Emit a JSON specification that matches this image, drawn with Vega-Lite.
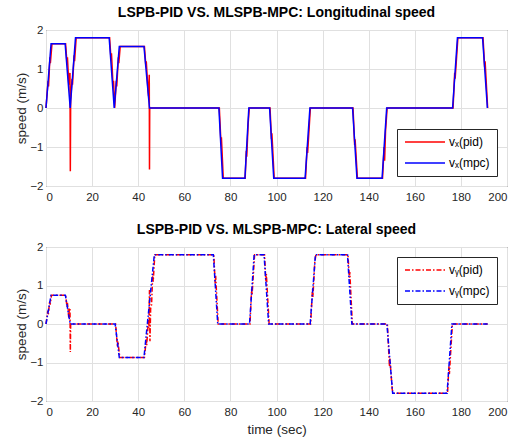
{
  "$schema": "https://vega.github.io/schema/vega-lite/v6.json",
  "padding": {"left": 14, "top": 5, "right": 5, "bottom": 2},
  "background": "white",
  "spacing": 19,
  "resolve": {"scale": {"color": "independent"}, "legend": {"color": "independent"}},
  "config": {
    "font": "Liberation Sans",
    "view": {"stroke": "#262626", "strokeWidth": 1},
    "axis": {"grid": true, "gridColor": "#e0e0e0", "domain": false, "ticks": false, "labelFont": "Liberation Sans", "labelFontSize": 11.5, "labelColor": "#262626", "titleFont": "Liberation Sans", "titleFontSize": 13.5, "titleFontWeight": "normal", "titleColor": "#262626"},
    "title": {"font": "Liberation Sans", "fontSize": 14, "fontWeight": "bold", "color": "#000000", "offset": 4},
    "legend": {"fillColor": "white", "strokeColor": "#262626", "padding": 7, "labelFont": "Liberation Sans", "labelFontSize": 12, "labelColor": "#000000", "symbolType": "M-1,0H7", "symbolStrokeWidth": 1.5, "symbolSize": 100, "rowPadding": 9, "labelOffset": 33, "cornerRadius": 0}
  },
  "vconcat": [
    {
      "width": 461,
      "height": 156,
      "title": "LSPB-PID VS. MLSPB-MPC: Longitudinal speed",
      "data": {"values": [
        {"s": "pid", "t": 0, "v": 0}, {"s": "pid", "t": 0.9, "v": 0.7}, {"s": "pid", "t": 1.1, "v": 0.55}, {"s": "pid", "t": 1.7, "v": 1.3}, {"s": "pid", "t": 1.9, "v": 1.15}, {"s": "pid", "t": 2.6, "v": 1.65},
        {"s": "pid", "t": 8.5, "v": 1.65}, {"s": "pid", "t": 9.1, "v": 1.15}, {"s": "pid", "t": 9.3, "v": 1.3}, {"s": "pid", "t": 9.9, "v": 0.6}, {"s": "pid", "t": 10.1, "v": 0.85}, {"s": "pid", "t": 10.4, "v": 0.9}, {"s": "pid", "t": 10.55, "v": -1.62}, {"s": "pid", "t": 10.7, "v": 0.2},
        {"s": "pid", "t": 11.3, "v": 0.75}, {"s": "pid", "t": 11.5, "v": 0.6}, {"s": "pid", "t": 12.2, "v": 1.35}, {"s": "pid", "t": 12.4, "v": 1.2}, {"s": "pid", "t": 13.1, "v": 1.8},
        {"s": "pid", "t": 27.6, "v": 1.8}, {"s": "pid", "t": 28.2, "v": 1.25}, {"s": "pid", "t": 28.4, "v": 1.4}, {"s": "pid", "t": 29.1, "v": 0.55}, {"s": "pid", "t": 29.3, "v": 0.7}, {"s": "pid", "t": 29.8, "v": 0},
        {"s": "pid", "t": 30.5, "v": 0.7}, {"s": "pid", "t": 30.7, "v": 0.55}, {"s": "pid", "t": 31.4, "v": 1.3}, {"s": "pid", "t": 31.6, "v": 1.15}, {"s": "pid", "t": 32.2, "v": 1.58},
        {"s": "pid", "t": 42.7, "v": 1.58}, {"s": "pid", "t": 43.3, "v": 1.1}, {"s": "pid", "t": 43.5, "v": 1.2}, {"s": "pid", "t": 44.2, "v": 0.5}, {"s": "pid", "t": 44.5, "v": 0.3}, {"s": "pid", "t": 44.8, "v": 0.85}, {"s": "pid", "t": 44.9, "v": -1.58}, {"s": "pid", "t": 45.0, "v": 0},
        {"s": "pid", "t": 75.2, "v": 0}, {"s": "pid", "t": 75.9, "v": -0.9}, {"s": "pid", "t": 76.1, "v": -0.75}, {"s": "pid", "t": 76.9, "v": -1.8},
        {"s": "pid", "t": 86.4, "v": -1.8}, {"s": "pid", "t": 86.9, "v": -1.1}, {"s": "pid", "t": 87.1, "v": -1.25}, {"s": "pid", "t": 87.7, "v": -0.4}, {"s": "pid", "t": 88.2, "v": 0},
        {"s": "pid", "t": 97.2, "v": 0}, {"s": "pid", "t": 97.8, "v": -0.8}, {"s": "pid", "t": 98.0, "v": -0.65}, {"s": "pid", "t": 99.0, "v": -1.8},
        {"s": "pid", "t": 112.6, "v": -1.8}, {"s": "pid", "t": 113.3, "v": -1.0}, {"s": "pid", "t": 113.5, "v": -1.15}, {"s": "pid", "t": 114.7, "v": 0},
        {"s": "pid", "t": 133.2, "v": 0}, {"s": "pid", "t": 133.9, "v": -0.95}, {"s": "pid", "t": 134.1, "v": -0.8}, {"s": "pid", "t": 135.1, "v": -1.8},
        {"s": "pid", "t": 146.0, "v": -1.8}, {"s": "pid", "t": 146.7, "v": -1.0}, {"s": "pid", "t": 146.9, "v": -1.35}, {"s": "pid", "t": 147.3, "v": -0.6}, {"s": "pid", "t": 148.0, "v": 0},
        {"s": "pid", "t": 176.6, "v": 0}, {"s": "pid", "t": 177.3, "v": 0.9}, {"s": "pid", "t": 177.5, "v": 0.75}, {"s": "pid", "t": 178.7, "v": 1.8},
        {"s": "pid", "t": 189.6, "v": 1.8}, {"s": "pid", "t": 190.3, "v": 1.05}, {"s": "pid", "t": 190.5, "v": 1.2}, {"s": "pid", "t": 191.6, "v": 0},
        {"s": "mpc", "t": 0, "v": 0}, {"s": "mpc", "t": 2.2, "v": 1.65}, {"s": "mpc", "t": 8.3, "v": 1.65}, {"s": "mpc", "t": 10.5, "v": 0}, {"s": "mpc", "t": 12.8, "v": 1.8},
        {"s": "mpc", "t": 27.4, "v": 1.8}, {"s": "mpc", "t": 29.6, "v": 0}, {"s": "mpc", "t": 31.8, "v": 1.58}, {"s": "mpc", "t": 42.5, "v": 1.58}, {"s": "mpc", "t": 44.9, "v": 0},
        {"s": "mpc", "t": 75.0, "v": 0}, {"s": "mpc", "t": 76.6, "v": -1.8}, {"s": "mpc", "t": 86.3, "v": -1.8}, {"s": "mpc", "t": 88.0, "v": 0},
        {"s": "mpc", "t": 97.0, "v": 0}, {"s": "mpc", "t": 98.8, "v": -1.8}, {"s": "mpc", "t": 112.4, "v": -1.8}, {"s": "mpc", "t": 114.5, "v": 0},
        {"s": "mpc", "t": 133.0, "v": 0}, {"s": "mpc", "t": 134.9, "v": -1.8}, {"s": "mpc", "t": 145.8, "v": -1.8}, {"s": "mpc", "t": 147.8, "v": 0},
        {"s": "mpc", "t": 176.4, "v": 0}, {"s": "mpc", "t": 178.5, "v": 1.8}, {"s": "mpc", "t": 189.4, "v": 1.8}, {"s": "mpc", "t": 191.5, "v": 0}
      ]},
      "encoding": {
        "x": {"field": "t", "type": "quantitative", "scale": {"domain": [0, 200], "nice": false}, "axis": {"values": [0, 20, 40, 60, 80, 100, 120, 140, 160, 180, 200], "title": null, "labelPadding": 5}},
        "y": {"field": "v", "type": "quantitative", "scale": {"domain": [-2, 2], "nice": false}, "axis": {"values": [-2, -1, 0, 1, 2], "title": "speed (m/s)", "labelPadding": 3, "titlePadding": 1}},
        "color": {"field": "s", "type": "nominal", "scale": {"domain": ["pid", "mpc"], "range": ["#ff0000", "#0000ff"]},
          "legend": {"title": null, "orient": "bottom-right", "offset": 10, "labelExpr": "datum.value == 'pid' ? 'vₓ(pid)' : 'vₓ(mpc)'"}}
      },
      "layer": [
        {"transform": [{"filter": "datum.s == 'pid'"}], "mark": {"type": "line", "strokeWidth": 1.5}},
        {"transform": [{"filter": "datum.s == 'mpc'"}], "mark": {"type": "line", "strokeWidth": 1.5}}
      ]
    },
    {
      "width": 461,
      "height": 154,
      "title": "LSPB-PID VS. MLSPB-MPC: Lateral speed",
      "data": {"values": [
        {"s": "pid", "t": 0, "v": 0}, {"s": "pid", "t": 0.8, "v": 0.35}, {"s": "pid", "t": 1.0, "v": 0.25}, {"s": "pid", "t": 1.6, "v": 0.6}, {"s": "pid", "t": 1.8, "v": 0.5}, {"s": "pid", "t": 2.4, "v": 0.75},
        {"s": "pid", "t": 8.5, "v": 0.75}, {"s": "pid", "t": 9.1, "v": 0.45}, {"s": "pid", "t": 9.3, "v": 0.55}, {"s": "pid", "t": 9.9, "v": 0.15}, {"s": "pid", "t": 10.1, "v": 0.4}, {"s": "pid", "t": 10.4, "v": 0.42}, {"s": "pid", "t": 10.55, "v": -0.73}, {"s": "pid", "t": 10.7, "v": 0},
        {"s": "pid", "t": 30.2, "v": 0}, {"s": "pid", "t": 31.0, "v": -0.6}, {"s": "pid", "t": 31.2, "v": -0.45}, {"s": "pid", "t": 32.0, "v": -0.87},
        {"s": "pid", "t": 42.7, "v": -0.87}, {"s": "pid", "t": 43.5, "v": -0.4}, {"s": "pid", "t": 43.7, "v": -0.55}, {"s": "pid", "t": 44.4, "v": 0.1}, {"s": "pid", "t": 44.6, "v": -0.1}, {"s": "pid", "t": 44.9, "v": 0.88}, {"s": "pid", "t": 45.1, "v": -0.45}, {"s": "pid", "t": 45.4, "v": 0.4}, {"s": "pid", "t": 45.8, "v": 0.5}, {"s": "pid", "t": 46.3, "v": 1.3}, {"s": "pid", "t": 46.5, "v": 1.1}, {"s": "pid", "t": 47.2, "v": 1.8},
        {"s": "pid", "t": 72.8, "v": 1.8}, {"s": "pid", "t": 73.4, "v": 1.05}, {"s": "pid", "t": 73.6, "v": 1.25}, {"s": "pid", "t": 74.7, "v": 0},
        {"s": "pid", "t": 88.5, "v": 0}, {"s": "pid", "t": 89.2, "v": 0.9}, {"s": "pid", "t": 89.4, "v": 0.75}, {"s": "pid", "t": 90.5, "v": 1.8},
        {"s": "pid", "t": 94.8, "v": 1.8}, {"s": "pid", "t": 95.4, "v": 1.1}, {"s": "pid", "t": 95.6, "v": 1.3}, {"s": "pid", "t": 96.8, "v": 0},
        {"s": "pid", "t": 114.8, "v": 0}, {"s": "pid", "t": 115.6, "v": 0.9}, {"s": "pid", "t": 115.8, "v": 0.7}, {"s": "pid", "t": 116.6, "v": 1.6}, {"s": "pid", "t": 117.1, "v": 1.8},
        {"s": "pid", "t": 131.0, "v": 1.8}, {"s": "pid", "t": 131.6, "v": 1.2}, {"s": "pid", "t": 131.8, "v": 1.35}, {"s": "pid", "t": 132.9, "v": 0},
        {"s": "pid", "t": 148.1, "v": 0}, {"s": "pid", "t": 149.0, "v": -1.1}, {"s": "pid", "t": 149.2, "v": -0.9}, {"s": "pid", "t": 150.2, "v": -1.7}, {"s": "pid", "t": 150.6, "v": -1.8},
        {"s": "pid", "t": 174.2, "v": -1.8}, {"s": "pid", "t": 174.8, "v": -1.1}, {"s": "pid", "t": 175.0, "v": -1.3}, {"s": "pid", "t": 176.3, "v": 0}, {"s": "pid", "t": 191.6, "v": 0},
        {"s": "mpc", "t": 0, "v": 0}, {"s": "mpc", "t": 2.2, "v": 0.75}, {"s": "mpc", "t": 8.4, "v": 0.75}, {"s": "mpc", "t": 10.5, "v": 0},
        {"s": "mpc", "t": 30.0, "v": 0}, {"s": "mpc", "t": 31.8, "v": -0.87}, {"s": "mpc", "t": 42.5, "v": -0.87}, {"s": "mpc", "t": 47.0, "v": 1.8},
        {"s": "mpc", "t": 72.6, "v": 1.8}, {"s": "mpc", "t": 74.5, "v": 0}, {"s": "mpc", "t": 88.3, "v": 0}, {"s": "mpc", "t": 90.3, "v": 1.8},
        {"s": "mpc", "t": 94.6, "v": 1.8}, {"s": "mpc", "t": 96.6, "v": 0}, {"s": "mpc", "t": 114.6, "v": 0}, {"s": "mpc", "t": 116.9, "v": 1.8},
        {"s": "mpc", "t": 130.8, "v": 1.8}, {"s": "mpc", "t": 132.7, "v": 0}, {"s": "mpc", "t": 147.9, "v": 0}, {"s": "mpc", "t": 150.4, "v": -1.8},
        {"s": "mpc", "t": 174.0, "v": -1.8}, {"s": "mpc", "t": 176.1, "v": 0}, {"s": "mpc", "t": 191.6, "v": 0}
      ]},
      "encoding": {
        "x": {"field": "t", "type": "quantitative", "scale": {"domain": [0, 200], "nice": false}, "axis": {"values": [0, 20, 40, 60, 80, 100, 120, 140, 160, 180, 200], "title": "time (sec)", "labelPadding": 5, "titlePadding": 5}},
        "y": {"field": "v", "type": "quantitative", "scale": {"domain": [-2, 2], "nice": false}, "axis": {"values": [-2, -1, 0, 1, 2], "title": "speed (m/s)", "labelPadding": 3, "titlePadding": 1}},
        "color": {"field": "s", "type": "nominal", "scale": {"domain": ["pid", "mpc"], "range": ["#ff0000", "#0000ff"]},
          "legend": {"title": null, "orient": "top-right", "offset": 10, "symbolDash": [5, 2, 1.5, 2], "labelExpr": "datum.value == 'pid' ? 'vᵧ(pid)' : 'vᵧ(mpc)'"}}
      },
      "layer": [
        {"transform": [{"filter": "datum.s == 'pid'"}], "mark": {"type": "line", "strokeWidth": 1.5, "strokeDash": [5, 2, 1.5, 2]}},
        {"transform": [{"filter": "datum.s == 'mpc'"}], "mark": {"type": "line", "strokeWidth": 1.5, "strokeDash": [5, 2, 1.5, 2]}}
      ]
    }
  ]
}
